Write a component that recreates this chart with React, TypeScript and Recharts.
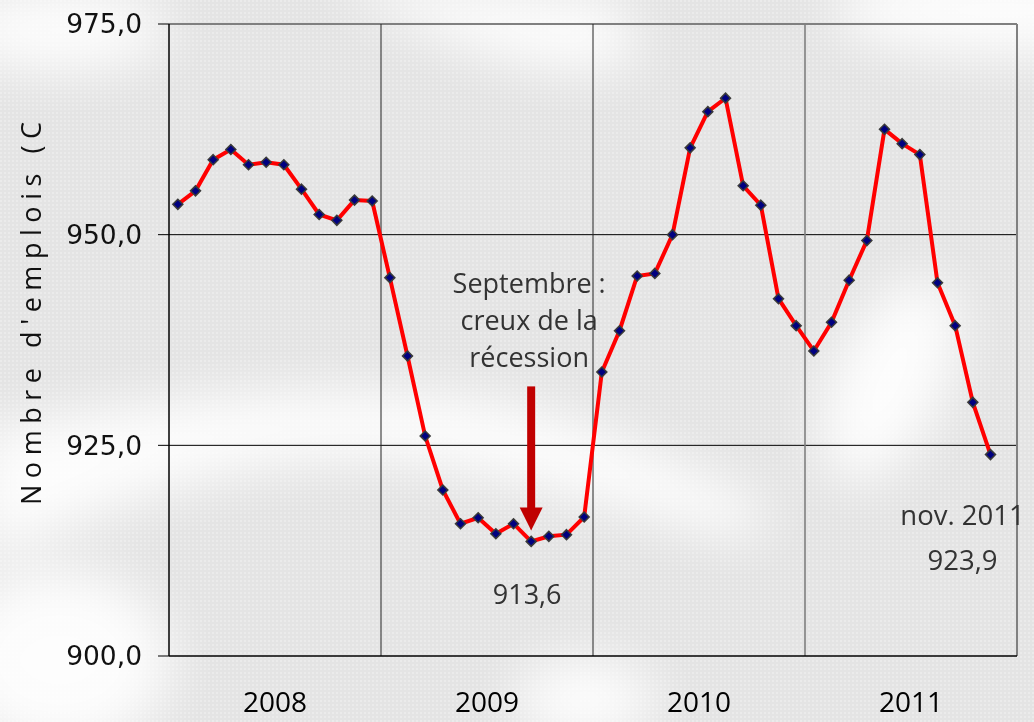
import React from 'react';
import { LineChart, Line, XAxis, YAxis, ReferenceLine, ReferenceDot } from 'recharts';

const years = ['2008', '2009', '2010', '2011'];
const jobs2008 = [953.6, 955.2, 958.9, 960.1, 958.3, 958.6, 958.3, 955.4, 952.4, 951.7, 954.1, 954.0];
const jobs2009 = [944.9, 935.6, 926.1, 919.7, 915.7, 916.4, 914.5, 915.7, 913.6, 914.2, 914.4, 916.5];
const jobs2010 = [933.7, 938.6, 945.1, 945.4, 950.0, 960.3, 964.6, 966.2, 955.8, 953.5, 942.4, 939.2];
const jobs2011 = [936.2, 939.6, 944.6, 949.3, 962.5, 960.8, 959.5, 944.3, 939.2, 930.1, 923.9];
const yTicks = [900, 925, 950, 975];
const troughLabel = ['Septembre :', 'creux de la', 'récession'];
const troughValue = '913,6';
const lastLabel = 'nov. 2011';
const lastValue = '923,9';
const axisTitle = "Nombre d'emplois (C";

const series = [jobs2008, jobs2009, jobs2010, jobs2011];
const data = series.flatMap((vals, yi) => vals.map((v, m) => ({ t: yi * 12 + m + 0.5, v })));
const yearTicks = years.map((_, i) => i * 12 + 6);
const yearBounds = [12, 24, 36];
const troughPoint = data[20];
const lastPoint = data[data.length - 1];

const TEXT_FONT = '"Open Sans", "Noto Sans", sans-serif';

const Diamond = (props: any) => {
  const { cx, cy, index } = props;
  if (cx == null || cy == null) return null;
  const r = 5;
  return (
    <path
      key={`d-${index}`}
      d={`M${cx},${cy - r}L${cx + r},${cy}L${cx},${cy + r}L${cx - r},${cy}Z`}
      fill="#000080"
      stroke="#3a3a3a"
      strokeWidth={1.5}
    />
  );
};

const TroughShape = (props: any) => {
  const { cx, cy } = props;
  if (cx == null) return null;
  return (
    <g>
      <rect x={cx - 4} y={cy - 155} width={8} height={122} fill="#C00000" />
      <polygon points={`${cx - 11.5},${cy - 34} ${cx + 11.5},${cy - 34} ${cx},${cy - 11}`} fill="#C00000" />
      {troughLabel.map((s, i) => (
        <text key={s} x={cx - 2} y={cy - 248 + i * 37} textAnchor="middle" fontFamily={TEXT_FONT} fontSize={27} fill="#333">
          {s}
        </text>
      ))}
      <text x={cx - 4} y={cy + 63} textAnchor="middle" fontFamily={TEXT_FONT} fontSize={27} fill="#333">
        {troughValue}
      </text>
    </g>
  );
};

const LastShape = (props: any) => {
  const { cx, cy } = props;
  if (cx == null) return null;
  return (
    <g>
      <text x={cx - 28} y={cy + 70} textAnchor="middle" fontFamily={TEXT_FONT} fontSize={27.5} fill="#333">
        {lastLabel}
      </text>
      <text x={cx - 28} y={cy + 115} textAnchor="middle" fontFamily={TEXT_FONT} fontSize={27.5} fill="#333">
        {lastValue}
      </text>
    </g>
  );
};

const Background = () => (
  <svg width={1034} height={722} style={{ position: 'absolute', left: 0, top: 0 }}>
    <defs>
      <filter id="blur" x="-50%" y="-50%" width="200%" height="200%">
        <feGaussianBlur stdDeviation="26" />
      </filter>
      <pattern id="tex" width="4" height="4" patternUnits="userSpaceOnUse">
        <rect width="4" height="4" fill="#e4e4e4" />
        <rect width="2" height="2" fill="#ebebeb" />
      </pattern>
    </defs>
    <rect width={1034} height={722} fill="url(#tex)" />
    <g filter="url(#blur)" fill="#ffffff" opacity={0.9}>
      <ellipse cx={1000} cy={10} rx={170} ry={45} />
      <path d="M330,-20 C430,40 560,90 640,60 L620,0 Z" />
      <ellipse cx={60} cy={30} rx={110} ry={40} />
      <path d="M-20,430 C150,400 330,380 480,400 C600,415 680,470 760,500 L760,540 C640,520 520,470 380,460 C220,450 90,520 -20,560 Z" />
      <ellipse cx={890} cy={380} rx={55} ry={110} transform="rotate(25 890 380)" />
      <ellipse cx={60} cy={660} rx={110} ry={90} />
      <ellipse cx={585} cy={700} rx={70} ry={40} />
    </g>
  </svg>
);

export default function App() {
  return (
    <div style={{ position: 'absolute', left: 0, top: 0, width: 1034, height: 722, overflow: 'hidden' }}>
      <Background />
      <div style={{ position: 'absolute', left: 0, top: 0 }}>
        <LineChart width={1034} height={722} data={data} margin={{ top: 24, right: 17, bottom: 0, left: 0 }}>
          <XAxis
            dataKey="t"
            type="number"
            domain={[0, 48]}
            ticks={yearTicks}
            tickFormatter={(v: number) => years[Math.floor(v / 12)]}
            tickLine={false}
            tickMargin={30}
            height={66}
            axisLine={{ stroke: '#000', strokeWidth: 1.5 }}
            tick={{ fill: '#000', fontSize: 28, fontFamily: TEXT_FONT }}
            interval={0}
          />
          <YAxis
            type="number"
            domain={[900, 975]}
            ticks={yTicks}
            width={169}
            tickSize={11}
            tickMargin={16}
            tickFormatter={(v: number) => v.toFixed(1).replace('.', ',')}
            axisLine={{ stroke: '#000', strokeWidth: 1.5 }}
            tickLine={{ stroke: '#000' }}
            tick={{ fill: '#111', fontSize: 26.5, fontFamily: '"DejaVu Sans", Verdana, sans-serif' }}
            interval={0}
          />
          <ReferenceLine y={925} stroke="#000" strokeWidth={1} />
          <ReferenceLine y={950} stroke="#000" strokeWidth={1} />
          <ReferenceLine y={975} stroke="#808080" strokeWidth={2} />
          <ReferenceLine x={48} stroke="#808080" strokeWidth={2} />
          {yearBounds.map((b, i) => (
            <ReferenceLine
              key={b}
              x={b}
              stroke={i === 2 ? '#7f7f7f' : '#222'}
              strokeWidth={i === 2 ? 1.6 : 1}
            />
          ))}
          <Line
            dataKey="v"
            stroke="#FF0000"
            strokeWidth={4}
            dot={Diamond}
            activeDot={false}
            isAnimationActive={false}
          />
          <ReferenceDot x={troughPoint.t} y={troughPoint.v} shape={TroughShape} />
          <ReferenceDot x={lastPoint.t} y={lastPoint.v} shape={LastShape} />
        </LineChart>
      </div>
      <svg width={80} height={722} style={{ position: 'absolute', left: 0, top: 0 }}>
        <text
          x={41}
          y={505}
          transform="rotate(-90 41 505)"
          fontFamily={TEXT_FONT}
          fontSize={27}
          fill="#111"
          textLength={383}
          lengthAdjust="spacing"
        >
          {axisTitle}
        </text>
      </svg>
    </div>
  );
}
